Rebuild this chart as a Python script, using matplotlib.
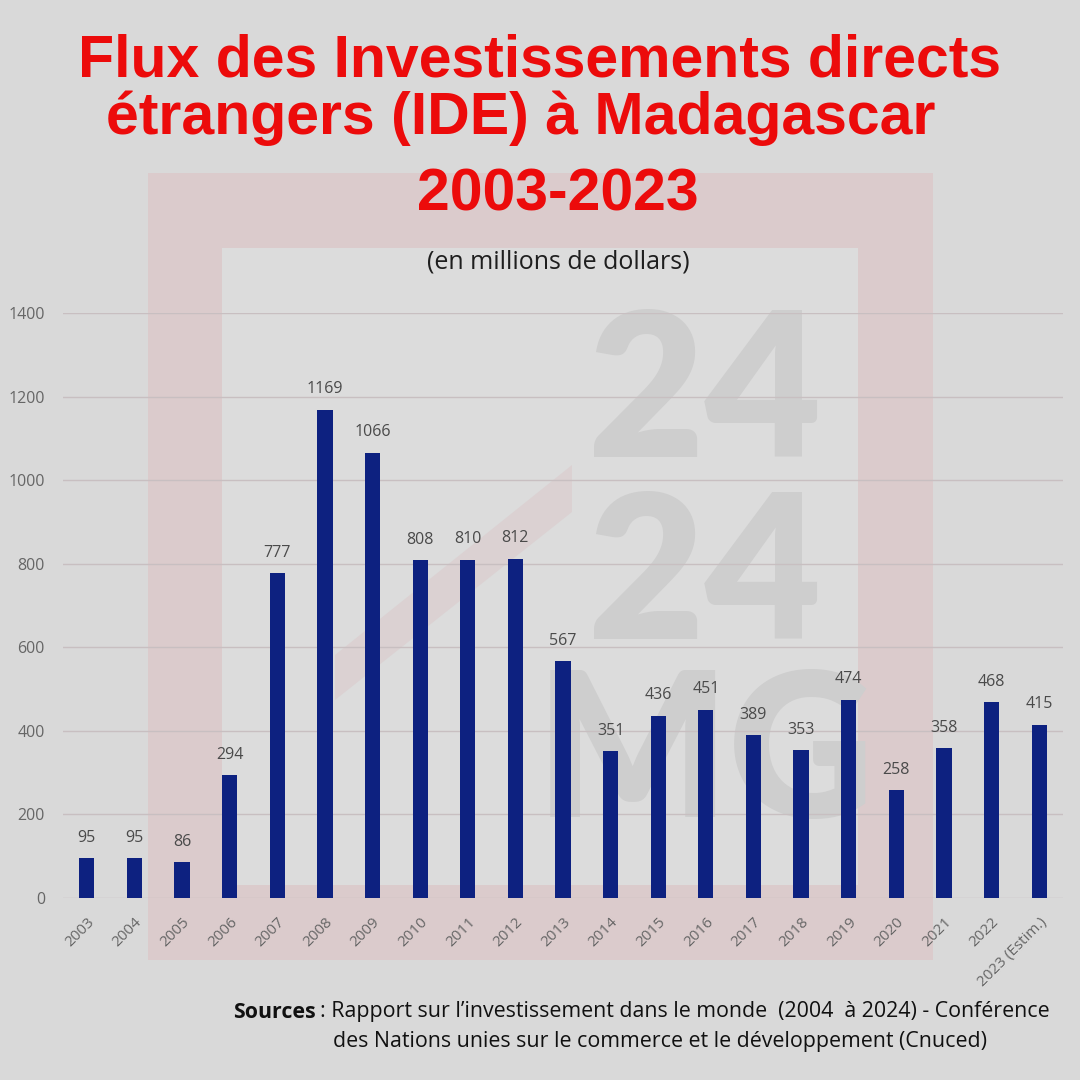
import matplotlib.pyplot as plt
from matplotlib.patches import Rectangle, Polygon

# ---------------- DATA ----------------
years = ["2003", "2004", "2005", "2006", "2007", "2008", "2009", "2010", "2011",
         "2012", "2013", "2014", "2015", "2016", "2017", "2018", "2019", "2020",
         "2021", "2022", "2023 (Estim.)"]
ide_flux = [95, 95, 86, 294, 777, 1169, 1066, 808, 810, 812, 567, 351, 436,
            451, 389, 353, 474, 258, 358, 468, 415]
y_ticks = [0, 200, 400, 600, 800, 1000, 1200, 1400]

title_lines = ["Flux des Investissements directs",
               "étrangers (IDE) à Madagascar",
               "2003-2023"]
subtitle = "(en millions de dollars)"

# ---------------- STYLE ----------------
bg = "#d9d9d9"
red = "#ec0b0b"
navy = "#0d2180"
grey_txt = "#666666"

fig = plt.figure(figsize=(10.8, 10.8), dpi=100, facecolor=bg)


def px(xp, yp):
    # pixel position (from top-left) -> figure fraction
    return xp / 1080, 1 - yp / 1080


# background watermark (frame + logo letters) in its own axes behind everything
bgax = fig.add_axes([0, 0, 1, 1], zorder=-1)
bgax.set_xlim(0, 1080)
bgax.set_ylim(1080, 0)
bgax.axis("off")
bgax.add_patch(Rectangle((148, 173), 785, 787, facecolor="#dbcbcc", edgecolor="none"))
bgax.add_patch(Rectangle((222, 248), 636, 637, facecolor="#dcdcdc", edgecolor="none"))
bgax.add_patch(Polygon([(335, 700), (335, 655), (572, 465), (572, 512)],
                       facecolor="#dbd1d2", edgecolor="none"))
for txt, ypix in [("24", 398), ("24", 580), ("MG", 758)]:
    bgax.text(705, ypix, txt, ha="center", va="center", fontsize=145,
              fontweight="heavy", family="Lato", color="#cecece")

# ---------------- TITLE ----------------
for line, (xp, yp) in zip(title_lines, [(540, 61), (521, 118), (558, 195)]):
    fig.text(*px(xp, yp), line, ha="center", va="center", fontsize=42.5,
             fontweight="bold", family="Liberation Sans", color=red)
fig.text(*px(558, 262), subtitle, ha="center", va="center",
         fontsize=18, family="Open Sans", color="#1e1e1e")

# ---------------- CHART ----------------
ax = fig.add_axes([63 / 1080, 182 / 1080, 1000 / 1080, 585 / 1080], zorder=1)
ax.set_facecolor("none")

x = range(len(years))
ax.bar(x, ide_flux, width=0.32, color=navy, zorder=3)

for xi, v in zip(x, ide_flux):
    ax.annotate(str(v), (xi, v), xytext=(0, 9), textcoords="offset points",
                ha="center", va="bottom", fontsize=11.5, family="Open Sans",
                color="#4a4a4a")

ax.set_xlim(-0.5, len(years) - 0.5)
ax.set_ylim(0, 1400)
ax.set_yticks(y_ticks)
ax.set_yticklabels([str(t) for t in y_ticks], fontsize=11.5, family="Open Sans",
                   color=grey_txt)
ax.set_xticks(list(x))
ax.set_xticklabels(years, rotation=45, ha="right", rotation_mode="anchor",
                   fontsize=11, family="Open Sans", color=grey_txt)
ax.tick_params(axis="both", length=0)
ax.tick_params(axis="y", pad=13)
ax.tick_params(axis="x", pad=12)

ax.grid(axis="y", color="#c8bfc1", linewidth=1, zorder=1)
for s in ax.spines.values():
    s.set_visible(False)

# ---------------- SOURCES ----------------
fig.text(*px(233, 1012), "Sources", ha="left", va="center",
         fontsize=15.4, fontweight="bold", family="Open Sans", color="#111111")
fig.text(*px(320, 1012),
         ": Rapport sur l\u2019investissement dans le monde  (2004  à 2024) - Conférence",
         ha="left", va="center", fontsize=15.4, family="Open Sans", color="#111111")
fig.text(*px(333, 1042),
         "des Nations unies sur le commerce et le développement (Cnuced)",
         ha="left", va="center", fontsize=15.4, family="Open Sans", color="#111111")

fig.savefig("out.png", dpi=100, facecolor=bg)
